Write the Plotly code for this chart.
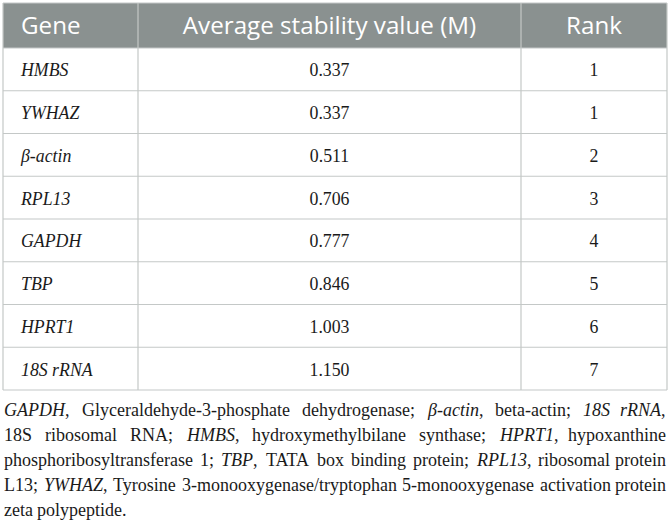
import plotly.graph_objects as go

# table data
genes = ["HMBS", "YWHAZ", "β-actin", "RPL13", "GAPDH", "TBP", "HPRT1", "18S rRNA"]
m_values = [0.337, 0.337, 0.511, 0.706, 0.777, 0.846, 1.003, 1.150]
ranks = [1, 1, 2, 3, 4, 5, 6, 7]
headers = ["Gene", "Average stability value (M)", "Rank"]

footnote_lines = [
    "<i>GAPDH</i>, Glyceraldehyde-3-phosphate dehydrogenase; <i>β-actin</i>, beta-actin; <i>18S rRNA</i>,",
    "18S ribosomal RNA; <i>HMBS</i>, hydroxymethylbilane synthase; <i>HPRT1</i>, hypoxanthine",
    "phosphoribosyltransferase 1; <i>TBP</i>, TATA box binding protein; <i>RPL13</i>, ribosomal protein",
    "L13; <i>YWHAZ</i>, Tyrosine 3-monooxygenase/tryptophan 5-monooxygenase activation protein",
    "zeta polypeptide.",
]

# layout (pixels)
W, H = 670, 521
col_edges = [3, 138, 521, 667]
table_top = 3
header_h = 45
row_h = 42.75
text_pad = 18
text_drop = 2.5
note_top = 410
note_gap = 24.9
note_size = 18

border = "#c4c8c7"
head_bg = "#8a9190"
ink = "#1a1a1a"

# rough Times widths (em/1000) for justifying the footnote
char_w = {}
for chars, w in [
    (" ,.", 250), ("ijlt;:/", 278), ("fr-()I", 333), ("sJ", 389),
    ("acez", 444), ("bdghknopquvxy0123456789β", 500), ("FPS", 556),
    ("ELTZ", 611), ("BCR", 667), ("ADGHKNOQUVXYw", 722), ("m", 778),
    ("M", 889), ("W", 944),
]:
    for ch in chars:
        char_w[ch] = w
italic_w = {"A": 611, "P": 611, "S": 500, "T": 556, "L": 556, "M": 833, "R": 611,
            "W": 833, "Y": 556, "Z": 556, "N": 667, "r": 389, "a": 500}


def text_width(word, size):
    italic = "<i>" in word
    plain = word.replace("<i>", "").replace("</i>", "")
    table = dict(char_w, **italic_w) if italic else char_w
    w = sum(table.get(ch, 500) for ch in plain)
    if not italic:
        for pair in ("TA", "AT", "Ty"):
            w -= 70 * plain.count(pair)
    return w * size / 1000.0


def split_words(line):
    """Split on spaces while keeping <i> tags balanced per word"""
    out = []
    italic = False
    for tok in line.split(" "):
        word = ("<i>" + tok) if italic else tok
        if "<i>" in tok:
            italic = True
        if "</i>" in tok:
            italic = False
        if italic:
            word += "</i>"
        out.append(word)
    return out


n_rows = len(genes)
header_mid = table_top + header_h / 2 + text_drop
row_mid = [table_top + header_h + (i + 0.5) * row_h + text_drop for i in range(n_rows)]
table_bottom = table_top + header_h + n_rows * row_h
col_mid = [(col_edges[i] + col_edges[i + 1]) / 2 for i in range(3)]
gene_x = col_edges[0] + text_pad

fig = go.Figure()

# header text
fig.add_trace(
    go.Scatter(
        x=[gene_x, col_mid[1], col_mid[2]],
        y=[header_mid] * 3,
        mode="text",
        text=headers,
        textposition=["middle right", "middle center", "middle center"],
        textfont=dict(family="Open Sans", size=24.2, color="white"),
        hoverinfo="skip",
    )
)

# body cells
body_font = dict(family="Liberation Serif", size=17.8, color=ink)
fig.add_trace(
    go.Scatter(
        x=[gene_x] * n_rows,
        y=row_mid,
        mode="text",
        text=["<i>%s</i>" % g for g in genes],
        textposition="middle right",
        textfont=body_font,
        hoverinfo="skip",
    )
)
fig.add_trace(
    go.Scatter(
        x=[col_mid[1]] * n_rows,
        y=row_mid,
        mode="text",
        text=["%.3f" % v for v in m_values],
        textposition="middle center",
        textfont=body_font,
        hoverinfo="skip",
    )
)
fig.add_trace(
    go.Scatter(
        x=[col_mid[2]] * n_rows,
        y=row_mid,
        mode="text",
        text=[str(r) for r in ranks],
        textposition="middle center",
        textfont=body_font,
        hoverinfo="skip",
    )
)

# header background and grid
fig.add_shape(
    type="rect", x0=col_edges[0], x1=col_edges[-1], y0=table_top, y1=table_top + header_h,
    fillcolor=head_bg, line=dict(width=0), layer="below",
)
for i in range(n_rows + 2):
    y = table_top if i == 0 else table_top + header_h + (i - 1) * row_h
    fig.add_shape(
        type="line", x0=col_edges[0], x1=col_edges[-1], y0=y, y1=y,
        line=dict(color=border, width=1.2),
    )
for x in col_edges:
    fig.add_shape(
        type="line", x0=x, x1=x, y0=table_top, y1=table_bottom,
        line=dict(color=border, width=1.2),
    )

# footnote, justified word by word
left, right = col_edges[0], col_edges[-1]
for li, line in enumerate(footnote_lines):
    words = split_words(line)
    widths = [text_width(w, note_size) for w in words]
    last = li == len(footnote_lines) - 1
    if last or len(words) < 2:
        gap = 0.25 * note_size
    else:
        gap = (right - left - sum(widths)) / (len(words) - 1)
    x = left
    y = note_top + note_gap * li
    for wi, word in enumerate(words):
        end_word = (not last) and wi == len(words) - 1
        fig.add_annotation(
            x=right if end_word else x,
            y=y,
            xref="x",
            yref="y",
            xanchor="right" if end_word else "left",
            yanchor="middle",
            text=word,
            showarrow=False,
            borderpad=0,
            font=dict(family="Liberation Serif", size=note_size, color=ink),
        )
        x += widths[wi] + gap

fig.update_layout(
    width=W,
    height=H,
    margin=dict(l=0, r=0, t=0, b=0),
    paper_bgcolor="white",
    plot_bgcolor="white",
    showlegend=False,
    xaxis=dict(range=[0, W], visible=False, fixedrange=True),
    yaxis=dict(range=[H, 0], visible=False, fixedrange=True),
)

fig.write_html(
    "out.html",
    config={"displayModeBar": False},
    post_script="document.body.style.margin='0';",
)
